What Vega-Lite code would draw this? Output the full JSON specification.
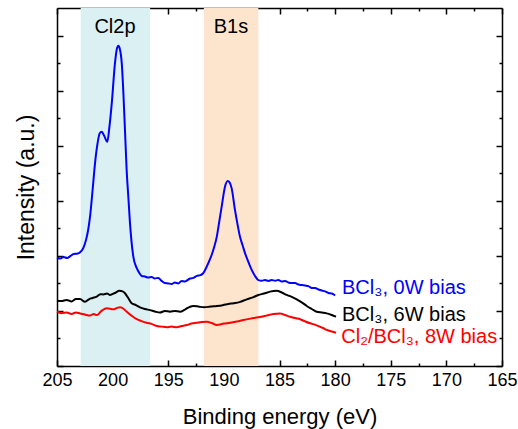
{
  "$schema": "https://vega.github.io/schema/vega-lite/v6.json",
  "width": 445,
  "height": 358,
  "autosize": {"type": "none"},
  "padding": {"left": 57, "top": 8, "right": 16, "bottom": 63},
  "config": {
    "view": {"stroke": null},
    "font": "Liberation Sans",
    "axis": {"grid": false, "domainColor": "#000000", "domainWidth": 1.5, "tickColor": "#000000", "tickWidth": 1.5, "labelColor": "#000000", "titleColor": "#000000", "labelFont": "Liberation Sans", "titleFont": "Liberation Sans", "titleFontWeight": "normal"}
  },
  "datasets": {
    "spectra": [
      {"be":205.0,"v":3.94,"s":"a"},{"be":204.7,"v":3.90,"s":"a"},{"be":204.4,"v":3.96,"s":"a"},{"be":204.1,"v":3.92,"s":"a"},{"be":203.8,"v":3.99,"s":"a"},{"be":203.5,"v":4.07,"s":"a"},{"be":203.2,"v":4.08,"s":"a"},{"be":202.9,"v":4.14,"s":"a"},{"be":202.64,"v":4.28,"s":"a"},{"be":202.39,"v":4.58,"s":"a"},{"be":202.2,"v":4.94,"s":"a"},{"be":202.03,"v":5.42,"s":"a"},{"be":201.8,"v":6.39,"s":"a"},{"be":201.58,"v":7.37,"s":"a"},{"be":201.38,"v":8.02,"s":"a"},{"be":201.15,"v":8.46,"s":"a"},{"be":200.98,"v":8.51,"s":"a"},{"be":200.75,"v":8.35,"s":"a"},{"be":200.48,"v":8.14,"s":"a"},{"be":200.3,"v":8.64,"s":"a"},{"be":200.06,"v":9.62,"s":"a"},{"be":199.79,"v":11.0,"s":"a"},{"be":199.6,"v":11.55,"s":"a"},{"be":199.49,"v":11.63,"s":"a"},{"be":199.35,"v":11.51,"s":"a"},{"be":199.18,"v":11.0,"s":"a"},{"be":198.89,"v":8.57,"s":"a"},{"be":198.74,"v":7.12,"s":"a"},{"be":198.59,"v":6.15,"s":"a"},{"be":198.44,"v":5.19,"s":"a"},{"be":198.14,"v":3.97,"s":"a"},{"be":197.84,"v":3.56,"s":"a"},{"be":197.6,"v":3.38,"s":"a"},{"be":197.39,"v":3.27,"s":"a"},{"be":197.1,"v":3.25,"s":"a"},{"be":196.8,"v":3.21,"s":"a"},{"be":196.5,"v":3.23,"s":"a"},{"be":196.2,"v":3.18,"s":"a"},{"be":195.9,"v":3.20,"s":"a"},{"be":195.6,"v":3.09,"s":"a"},{"be":195.3,"v":3.01,"s":"a"},{"be":195.0,"v":3.00,"s":"a"},{"be":194.7,"v":2.98,"s":"a"},{"be":194.4,"v":3.03,"s":"a"},{"be":194.1,"v":3.00,"s":"a"},{"be":193.8,"v":3.09,"s":"a"},{"be":193.5,"v":3.07,"s":"a"},{"be":193.04,"v":3.18,"s":"a"},{"be":192.74,"v":3.20,"s":"a"},{"be":192.44,"v":3.27,"s":"a"},{"be":192.1,"v":3.30,"s":"a"},{"be":191.85,"v":3.37,"s":"a"},{"be":191.6,"v":3.56,"s":"a"},{"be":191.35,"v":3.78,"s":"a"},{"be":191.1,"v":4.03,"s":"a"},{"be":190.87,"v":4.32,"s":"a"},{"be":190.64,"v":4.69,"s":"a"},{"be":190.42,"v":5.23,"s":"a"},{"be":190.2,"v":5.78,"s":"a"},{"be":189.9,"v":6.51,"s":"a"},{"be":189.66,"v":6.72,"s":"a"},{"be":189.48,"v":6.66,"s":"a"},{"be":189.3,"v":6.45,"s":"a"},{"be":189.0,"v":5.66,"s":"a"},{"be":188.78,"v":5.16,"s":"a"},{"be":188.55,"v":4.69,"s":"a"},{"be":188.3,"v":4.36,"s":"a"},{"be":188.1,"v":4.10,"s":"a"},{"be":187.8,"v":3.78,"s":"a"},{"be":187.5,"v":3.49,"s":"a"},{"be":187.2,"v":3.27,"s":"a"},{"be":186.9,"v":3.12,"s":"a"},{"be":186.6,"v":3.10,"s":"a"},{"be":186.3,"v":3.12,"s":"a"},{"be":186.0,"v":3.09,"s":"a"},{"be":185.7,"v":3.12,"s":"a"},{"be":185.4,"v":3.10,"s":"a"},{"be":185.1,"v":3.12,"s":"a"},{"be":184.8,"v":3.07,"s":"a"},{"be":184.5,"v":3.09,"s":"a"},{"be":184.2,"v":3.03,"s":"a"},{"be":183.9,"v":3.01,"s":"a"},{"be":183.6,"v":3.01,"s":"a"},{"be":183.3,"v":2.96,"s":"a"},{"be":183.0,"v":2.94,"s":"a"},{"be":182.7,"v":2.92,"s":"a"},{"be":182.4,"v":2.90,"s":"a"},{"be":182.1,"v":2.83,"s":"a"},{"be":181.8,"v":2.83,"s":"a"},{"be":181.5,"v":2.78,"s":"a"},{"be":181.2,"v":2.74,"s":"a"},{"be":180.9,"v":2.71,"s":"a"},{"be":180.6,"v":2.65,"s":"a"},{"be":180.3,"v":2.63,"s":"a"},{"be":180.0,"v":2.56,"s":"a"},
      {"be":205.0,"v":2.37,"s":"b"},{"be":204.6,"v":2.36,"s":"b"},{"be":204.13,"v":2.40,"s":"b"},{"be":203.7,"v":2.34,"s":"b"},{"be":203.3,"v":2.43,"s":"b"},{"be":202.93,"v":2.43,"s":"b"},{"be":202.48,"v":2.33,"s":"b"},{"be":202.1,"v":2.43,"s":"b"},{"be":201.8,"v":2.47,"s":"b"},{"be":201.43,"v":2.52,"s":"b"},{"be":201.1,"v":2.61,"s":"b"},{"be":200.83,"v":2.60,"s":"b"},{"be":200.5,"v":2.63,"s":"b"},{"be":200.23,"v":2.58,"s":"b"},{"be":199.8,"v":2.65,"s":"b"},{"be":199.39,"v":2.73,"s":"b"},{"be":199.1,"v":2.71,"s":"b"},{"be":198.89,"v":2.64,"s":"b"},{"be":198.6,"v":2.47,"s":"b"},{"be":198.29,"v":2.28,"s":"b"},{"be":197.9,"v":2.21,"s":"b"},{"be":197.54,"v":2.13,"s":"b"},{"be":197.1,"v":2.07,"s":"b"},{"be":196.64,"v":2.03,"s":"b"},{"be":196.2,"v":1.98,"s":"b"},{"be":195.74,"v":1.94,"s":"b"},{"be":195.3,"v":2.00,"s":"b"},{"be":194.84,"v":1.97,"s":"b"},{"be":194.4,"v":2.00,"s":"b"},{"be":193.94,"v":1.97,"s":"b"},{"be":193.5,"v":2.05,"s":"b"},{"be":193.1,"v":2.14,"s":"b"},{"be":192.74,"v":2.18,"s":"b"},{"be":192.3,"v":2.16,"s":"b"},{"be":191.78,"v":2.13,"s":"b"},{"be":191.2,"v":2.16,"s":"b"},{"be":190.64,"v":2.18,"s":"b"},{"be":190.1,"v":2.21,"s":"b"},{"be":189.6,"v":2.25,"s":"b"},{"be":189.14,"v":2.28,"s":"b"},{"be":188.6,"v":2.32,"s":"b"},{"be":187.94,"v":2.42,"s":"b"},{"be":187.4,"v":2.49,"s":"b"},{"be":186.9,"v":2.58,"s":"b"},{"be":186.4,"v":2.63,"s":"b"},{"be":185.85,"v":2.70,"s":"b"},{"be":185.25,"v":2.73,"s":"b"},{"be":184.8,"v":2.67,"s":"b"},{"be":184.35,"v":2.58,"s":"b"},{"be":183.9,"v":2.51,"s":"b"},{"be":183.45,"v":2.42,"s":"b"},{"be":183.0,"v":2.31,"s":"b"},{"be":182.55,"v":2.18,"s":"b"},{"be":182.1,"v":2.07,"s":"b"},{"be":181.66,"v":1.97,"s":"b"},{"be":181.2,"v":1.94,"s":"b"},{"be":180.76,"v":1.91,"s":"b"},{"be":180.3,"v":1.85,"s":"b"},{"be":179.92,"v":1.79,"s":"b"},
      {"be":205.0,"v":1.97,"s":"c"},{"be":204.6,"v":1.92,"s":"c"},{"be":204.13,"v":1.94,"s":"c"},{"be":203.7,"v":1.89,"s":"c"},{"be":203.3,"v":1.94,"s":"c"},{"be":202.93,"v":1.91,"s":"c"},{"be":202.5,"v":1.87,"s":"c"},{"be":202.03,"v":1.83,"s":"c"},{"be":201.7,"v":1.89,"s":"c"},{"be":201.43,"v":1.85,"s":"c"},{"be":201.0,"v":2.00,"s":"c"},{"be":200.53,"v":2.10,"s":"c"},{"be":199.93,"v":2.06,"s":"c"},{"be":199.6,"v":2.11,"s":"c"},{"be":199.33,"v":2.13,"s":"c"},{"be":199.0,"v":2.07,"s":"c"},{"be":198.73,"v":1.97,"s":"c"},{"be":198.3,"v":1.83,"s":"c"},{"be":197.83,"v":1.70,"s":"c"},{"be":197.4,"v":1.63,"s":"c"},{"be":196.94,"v":1.57,"s":"c"},{"be":196.5,"v":1.53,"s":"c"},{"be":196.04,"v":1.45,"s":"c"},{"be":195.6,"v":1.43,"s":"c"},{"be":195.14,"v":1.41,"s":"c"},{"be":194.7,"v":1.43,"s":"c"},{"be":194.24,"v":1.41,"s":"c"},{"be":193.8,"v":1.45,"s":"c"},{"be":193.34,"v":1.49,"s":"c"},{"be":192.9,"v":1.54,"s":"c"},{"be":192.44,"v":1.57,"s":"c"},{"be":192.0,"v":1.60,"s":"c"},{"be":191.54,"v":1.61,"s":"c"},{"be":191.1,"v":1.56,"s":"c"},{"be":190.64,"v":1.49,"s":"c"},{"be":190.0,"v":1.54,"s":"c"},{"be":189.44,"v":1.57,"s":"c"},{"be":188.8,"v":1.62,"s":"c"},{"be":188.24,"v":1.67,"s":"c"},{"be":187.6,"v":1.72,"s":"c"},{"be":186.9,"v":1.77,"s":"c"},{"be":186.2,"v":1.83,"s":"c"},{"be":185.55,"v":1.89,"s":"c"},{"be":184.95,"v":1.91,"s":"c"},{"be":184.5,"v":1.85,"s":"c"},{"be":184.05,"v":1.79,"s":"c"},{"be":183.6,"v":1.74,"s":"c"},{"be":183.15,"v":1.70,"s":"c"},{"be":182.7,"v":1.62,"s":"c"},{"be":182.25,"v":1.55,"s":"c"},{"be":181.9,"v":1.51,"s":"c"},{"be":181.5,"v":1.45,"s":"c"},{"be":181.1,"v":1.38,"s":"c"},{"be":180.76,"v":1.31,"s":"c"},{"be":180.3,"v":1.25,"s":"c"},{"be":179.92,"v":1.21,"s":"c"}
    ],
    "bands": [
      {"name":"Cl2p","x1":202.87,"x2":196.63,"lx":199.79,"ly":12.31,"fill":"cl"},
      {"name":"B1s","x1":191.8,"x2":186.9,"lx":189.36,"ly":12.31,"fill":"b"}
    ],
    "labels": [
      {"text":"BCl₃, 0W bias","be":179.38,"v":2.83,"s":"a"},
      {"text":"BCl₃, 6W bias","be":179.38,"v":1.85,"s":"b"},
      {"text":"Cl₂/BCl₃, 8W bias","be":179.45,"v":1.06,"s":"c"}
    ]
  },
  "resolve": {"axis": {"x": "independent", "y": "independent"}},
  "layer": [
    {
      "data": {"name": "bands"},
      "mark": {"type": "rect"},
      "encoding": {
        "x": {"field": "x1", "type": "quantitative", "scale": {"domain": [165, 205], "reverse": true, "nice": false, "zero": false},
              "axis": {"orient": "bottom", "values": [205,200,195,190,185,180,175,170,165], "tickSize": -6, "labelFontSize": 18, "labelFlush": false, "labelPadding": 11, "title": "Binding energy (eV)", "titleFontSize": 22, "titlePadding": 17}},
        "x2": {"field": "x2"},
        "color": {"field": "fill", "type": "nominal", "scale": {"domain": ["cl", "b"], "range": ["#daf0f3", "#fde5cd"]}, "legend": null}
      }
    },
    {
      "data": {"name": "spectra"},
      "mark": {"type": "line", "strokeWidth": 2, "interpolate": "monotone"},
      "encoding": {
        "x": {"field": "be", "type": "quantitative", "scale": {"domain": [165, 205], "reverse": true, "nice": false, "zero": false},
              "axis": {"orient": "top", "values": [205,200,195,190,185,180,175,170,165], "tickSize": -6, "labels": false, "title": null}},
        "y": {"field": "v", "type": "quantitative", "scale": {"domain": [0, 13], "nice": false, "zero": false},
              "axis": {"orient": "left", "values": [0,2,4,6,8,10,12], "tickSize": -6, "labels": false, "title": "Intensity (a.u.)", "titleFontSize": 23, "titlePadding": 18}},
        "detail": {"field": "s"},
        "stroke": {"field": "s", "type": "nominal", "scale": {"domain": ["a", "b", "c"], "range": ["#0000ff", "#000000", "#ff0000"]}, "legend": null}
      }
    },
    {
      "data": {"name": "labels"},
      "mark": {"type": "text", "align": "left", "baseline": "middle", "fontSize": 20, "font": "Liberation Sans"},
      "encoding": {
        "x": {"field": "be", "type": "quantitative", "scale": {"domain": [165, 205], "reverse": true, "nice": false, "zero": false},
              "axis": {"orient": "bottom", "values": [202.5,197.5,192.5,187.5,182.5,177.5,172.5,167.5], "tickSize": -3, "labels": false, "domain": false, "title": null}},
        "y": {"field": "v", "type": "quantitative", "scale": {"domain": [0, 13], "nice": false, "zero": false},
              "axis": {"orient": "right", "values": [0,2,4,6,8,10,12], "tickSize": -6, "labels": false, "title": null}},
        "text": {"field": "text"},
        "fill": {"field": "s", "type": "nominal", "scale": {"domain": ["a", "b", "c"], "range": ["#0000ff", "#000000", "#ff0000"]}, "legend": null}
      }
    },
    {
      "data": {"name": "bands"},
      "transform": [{"filter": "datum.name === 'Cl2p'"}],
      "mark": {"type": "text", "align": "center", "baseline": "middle", "fontSize": 20, "font": "Liberation Sans", "color": "#000000"},
      "encoding": {
        "x": {"field": "lx", "type": "quantitative", "scale": {"domain": [165, 205], "reverse": true, "nice": false, "zero": false},
              "axis": {"orient": "top", "values": [202.5,197.5,192.5,187.5,182.5,177.5,172.5,167.5], "tickSize": -3, "labels": false, "domain": false, "title": null}},
        "y": {"field": "ly", "type": "quantitative", "scale": {"domain": [0, 13], "nice": false, "zero": false},
              "axis": {"orient": "left", "values": [1,3,5,7,9,11], "tickSize": -3, "labels": false, "domain": false, "title": null}},
        "text": {"field": "name"}
      }
    },
    {
      "data": {"name": "bands"},
      "transform": [{"filter": "datum.name === 'B1s'"}],
      "mark": {"type": "text", "align": "center", "baseline": "middle", "fontSize": 20, "font": "Liberation Sans", "color": "#000000"},
      "encoding": {
        "x": {"field": "lx", "type": "quantitative", "scale": {"domain": [165, 205], "reverse": true, "nice": false, "zero": false}, "axis": null},
        "y": {"field": "ly", "type": "quantitative", "scale": {"domain": [0, 13], "nice": false, "zero": false},
              "axis": {"orient": "right", "values": [1,3,5,7,9,11], "tickSize": -3, "labels": false, "domain": false, "title": null}},
        "text": {"field": "name"}
      }
    }
  ]
}
